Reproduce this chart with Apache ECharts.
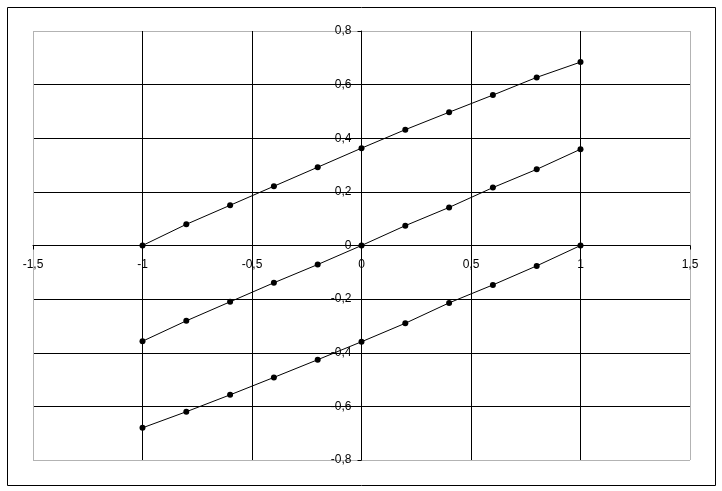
<!DOCTYPE html>
<html><head><meta charset="utf-8">
<script src="https://cdn.jsdelivr.net/npm/echarts@6/dist/echarts.min.js"></script>
<style>html,body{margin:0;padding:0;background:#fff}#c{width:722px;height:491px}</style>
</head><body><div id="c"></div>
<script>
const xValues = [-1, -0.8, -0.6, -0.4, -0.2, 0, 0.2, 0.4, 0.6, 0.8, 1];
const upperSeries = [0, 0.079, 0.15, 0.221, 0.292, 0.363, 0.432, 0.497, 0.561, 0.627, 0.684];
const middleSeries = [-0.357, -0.281, -0.21, -0.139, -0.071, 0, 0.074, 0.142, 0.216, 0.284, 0.359];
const lowerSeries = [-0.68, -0.62, -0.557, -0.492, -0.426, -0.359, -0.29, -0.214, -0.147, -0.076, 0];
const xTicks = [-1.5, -1, -0.5, 0, 0.5, 1, 1.5];
const yTicks = [-0.8, -0.6, -0.4, -0.2, 0, 0.2, 0.4, 0.6, 0.8];

const fmt = v => String(Math.round(v * 10) / 10).replace('.', ',');
const pairs = ys => xValues.map((x, i) => [x, ys[i]]);
const edgeColors = n => Array.from({length: n}, (_, i) => (i === 0 || i === n - 1) ? '#b3b3b3' : '#000');

const W = 722, H = 491, L = 33, R = 32, T = 31, B = 31;
const plotW = W - L - R, plotH = H - T - B;
const xMin = xTicks[0], xMax = xTicks[xTicks.length - 1];
const yMin = yTicks[0], yMax = yTicks[yTicks.length - 1];
// offsets that move the axes onto the zero lines
const xAxisOffset = -plotH * (0 - yMin) / (yMax - yMin);
const yAxisOffset = -plotW * (0 - xMin) / (xMax - xMin);

const chart = echarts.init(document.getElementById('c'));
const mk = ys => ({
  type: 'line', data: pairs(ys), symbol: 'circle', symbolSize: 6,
  itemStyle: {color: '#000'}, lineStyle: {color: '#000', width: 1},
  animation: false, silent: true, z: 5
});
chart.setOption({
  animation: false,
  textStyle: {fontFamily: 'Liberation Sans'},
  grid: {left: L, right: R, top: T, bottom: B, containLabel: false},
  graphic: [{type: 'rect', shape: {x: 7.5, y: 7.5, width: 708, height: 478}, style: {fill: 'none', stroke: '#000', lineWidth: 1}, z: -1}],
  xAxis: {
    type: 'value', min: xMin, max: xMax, interval: 0.5,
    position: 'bottom', offset: xAxisOffset,
    axisLine: {onZero: false, lineStyle: {color: '#000', width: 1}},
    axisTick: {show: true, length: 4, lineStyle: {color: '#000'}},
    axisLabel: {color: '#000', fontSize: 12, margin: 13, formatter: fmt, showMinLabel: true, showMaxLabel: true, hideOverlap: false},
    splitLine: {show: true, lineStyle: {color: edgeColors(xTicks.length), width: 1}}
  },
  yAxis: {
    type: 'value', min: yMin, max: yMax, interval: 0.2,
    position: 'left', offset: yAxisOffset,
    axisLine: {onZero: false, lineStyle: {color: '#000', width: 1}},
    axisTick: {show: true, length: 4, lineStyle: {color: '#000'}},
    axisLabel: {color: '#000', fontSize: 12, margin: 10, formatter: fmt, showMinLabel: true, showMaxLabel: true, hideOverlap: false},
    splitLine: {show: true, lineStyle: {color: edgeColors(yTicks.length), width: 1}}
  },
  series: [mk(upperSeries), mk(middleSeries), mk(lowerSeries)]
});
</script></body></html>
